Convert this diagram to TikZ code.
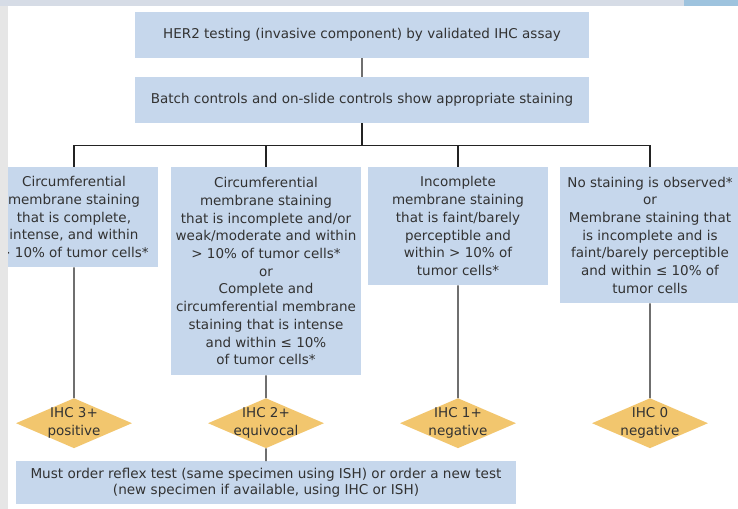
\documentclass[tikz,border=0pt]{standalone}
\usepackage{fontspec}
\setmainfont{DejaVu Sans}
\usetikzlibrary{shapes.geometric}
\definecolor{boxblue}{RGB}{198,215,236}
\definecolor{ihcgold}{RGB}{242,198,110}
\definecolor{inkgray}{RGB}{50,50,50}
\definecolor{linegray}{RGB}{35,35,35}
\definecolor{framegray}{RGB}{230,230,230}
\definecolor{framesky}{RGB}{214,220,230}
\definecolor{frameblue}{RGB}{158,195,222}
\newcommand\boxsize{\fontsize{13.5bp}{17.7bp}\selectfont}
\newcommand\reflexsize{\fontsize{13.6bp}{16bp}\selectfont}
\begin{document}
\begin{tikzpicture}[every node/.style={text=inkgray,align=center,font=\boxsize},
  box/.style={fill=boxblue,inner sep=2bp},
  ihc/.style={diamond,fill=ihcgold,inner sep=0pt,minimum width=116bp,minimum height=50bp},
  edge from parent/.style={draw=linegray,line width=1.3bp},
  parent anchor=south,child anchor=north,
  level 1/.style={level distance=65bp},
  level 2/.style={level distance=67bp,sibling distance=192bp,
    edge from parent path={(\tikzparentnode.south) -- ++(0,-22bp) -| (\tikzchildnode.north)}},
  level 3/.style={edge from parent path={(\tikzparentnode.south) -- (\tikzchildnode.north)}},
  level 4/.style={level distance=59.5bp}]
\fill[white] (0,0) rectangle (738bp,-509bp);
\useasboundingbox (0,0) rectangle (738bp,-509bp);
\node[box,minimum width=454bp,minimum height=46bp] (her2) at (362bp,-35bp) {HER2 testing (invasive component) by validated IHC assay}
  child {node[box,minimum width=454bp,minimum height=46bp] (ctrl) {Batch controls and on-slide controls show appropriate staining}
    child {node[box,anchor=north,minimum width=168bp,minimum height=100bp] (s3) {Circumferential\\membrane staining\\that is complete,\\intense, and within\\> 10\% of tumor cells*}
      child[level distance=206bp] {node[ihc,label={center:IHC 3+\\positive}] (r3) {}}}
    child {node[box,anchor=north,minimum width=190bp,minimum height=208bp] (s2) {Circumferential\\membrane staining\\that is incomplete and/or\\weak/moderate and within\\> 10\% of tumor cells*\\or\\Complete and\\circumferential membrane\\staining that is intense\\and within ≤ 10\%\\of tumor cells*}
      child[level distance=152bp] {node[ihc,label={center:IHC 2+\\equivocal}] (r2) {}
        child {node[box,minimum width=500bp,minimum height=43bp,font=\reflexsize] (reflex) {Must order reflex test (same specimen using ISH) or order a new test\\(new specimen if available, using IHC or ISH)}}}}
    child {node[box,anchor=north,minimum width=180bp,minimum height=118bp] (s1) {Incomplete\\membrane staining\\that is faint/barely\\perceptible and\\within > 10\% of\\tumor cells*}
      child[level distance=197bp] {node[ihc,label={center:IHC 1+\\negative}] (r1) {}}}
    child {node[box,anchor=north,minimum width=180bp,minimum height=136bp] (s0) {No staining is observed*\\or\\Membrane staining that\\is incomplete and is\\faint/barely perceptible\\and within ≤ 10\% of\\tumor cells}
      child[level distance=188bp] {node[ihc,label={center:IHC 0\\negative}] (r0) {}}}
  };
% page frame
\fill[framegray] (0,0) rectangle (8bp,-509bp);
\fill[framesky] (0,0) rectangle (738bp,-6bp);
\fill[frameblue] (684bp,0) rectangle (738bp,-6bp);
\end{tikzpicture}
\end{document}
